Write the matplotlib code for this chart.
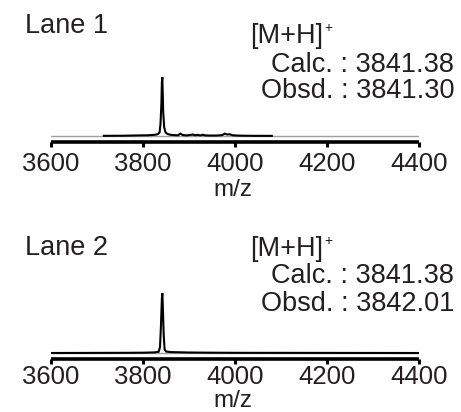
import matplotlib
matplotlib.use("Agg")
import matplotlib.pyplot as plt

plt.rcParams['font.family'] = ['Liberation Sans', 'DejaVu Sans']

W, H = 461, 412

# ---- data ----
xticks = [3600, 3800, 4000, 4200, 4400]
xtick_labels = ["3600", "3800", "4000", "4200", "4400"]

lane1_mz = [3715, 3760, 3790, 3810, 3825, 3832, 3836, 3838, 3840, 3841, 3842, 3843,
            3844, 3846, 3849, 3853, 3860, 3868, 3876, 3881, 3886, 3893, 3900, 3908,
            3913, 3918, 3925, 3930, 3935, 3945, 3960, 3972, 3978, 3983, 3988, 3995,
            4010, 4040, 4080]
lane1_int = [0.3, 0.5, 1.0, 1.2, 2.0, 3.0, 6.0, 20, 55, 90, 100, 70,
             40, 15, 6, 3.5, 2.0, 1.5, 1.2, 4.0, 1.8, 1.0, 1.5, 2.5,
             1.2, 2.0, 1.0, 2.2, 1.0, 0.8, 0.8, 1.5, 4.0, 2.5, 3.0, 1.2,
             0.6, 0.3, 0.2]

lane2_mz = [3600, 3760, 3800, 3825, 3834, 3837, 3839, 3841, 3842, 3843, 3845,
            3847, 3850, 3860, 3880, 3900, 3950, 4000, 4400]
lane2_int = [0, 0.3, 0.5, 1.0, 2.0, 10, 45, 90, 100, 80, 30,
             6, 2.5, 1.5, 1.2, 0.8, 0.5, 0.3, 0]

lanes = ["Lane 1", "Lane 2"]
calc = ["3841.38", "3841.38"]
obsd = ["3841.30", "3842.01"]

TXT = "#231f20"

fig = plt.figure(figsize=(W / 100, H / 100), dpi=100)


def fx(px):
    return px / W


def fy(py):
    return 1 - py / H


def make_axes(axis_y, peak_y, base_y, pad):
    height = axis_y - peak_y
    ax = fig.add_axes([fx(51), fy(axis_y), (419 - 51) / W, height / H])
    off = (axis_y - base_y) / (base_y - peak_y) * 100
    ax.set_ylim(-off, 100)
    ax.set_xlim(3600, 4400)
    for s in ["top", "right", "left"]:
        ax.spines[s].set_visible(False)
    ax.spines["bottom"].set_linewidth(2.6)
    ax.spines["bottom"].set_capstyle("butt")
    ax.set_yticks([])
    ax.set_xticks(xticks)
    ax.set_xticklabels(xtick_labels)
    ax.tick_params(axis="x", direction="out", length=3.5, width=2.2,
                   labelsize=18.5, pad=pad, colors="black", labelcolor=TXT)
    ax.patch.set_visible(False)
    ax.axhline(0, color="#a0a0a0", lw=1.0, zorder=1)
    return ax


panels = [
    dict(axis_y=142, peak_y=77, base_y=136, mz=lane1_mz, inten=lane1_int,
         lane_y=33, mh_y=43, calc_y=72, obsd_y=98, mz_y=196, pad=3.6),
    dict(axis_y=359, peak_y=293, base_y=353, mz=lane2_mz, inten=lane2_int,
         lane_y=255, mh_y=256, calc_y=283, obsd_y=311, mz_y=407, pad=0.8),
]

fs = 19.5
for i, p in enumerate(panels):
    ax = make_axes(p["axis_y"], p["peak_y"], p["base_y"], p["pad"])
    ax.plot(p["mz"], p["inten"], color="black", lw=1.5, zorder=2,
            solid_joinstyle="miter")
    fig.text(fx(25), fy(p["lane_y"]), lanes[i], fontsize=fs, va="baseline",
             ha="left", color=TXT)
    fig.text(fx(250), fy(p["mh_y"]), "[M+H]", fontsize=fs,
             va="baseline", ha="left", color=TXT)
    fig.text(fx(324), fy(p["mh_y"] - 11), "+", fontsize=10,
             va="baseline", ha="left", color=TXT)
    fig.text(fx(454), fy(p["calc_y"]), "Calc. : " + calc[i], fontsize=fs,
             va="baseline", ha="right", color=TXT)
    fig.text(fx(454), fy(p["obsd_y"]), "Obsd. : " + obsd[i], fontsize=fs,
             va="baseline", ha="right", color=TXT)
    fig.text(fx(233), fy(p["mz_y"]), "m/z", fontsize=17.5, va="baseline",
             ha="center", color=TXT)

fig.savefig("out.png", dpi=100)
